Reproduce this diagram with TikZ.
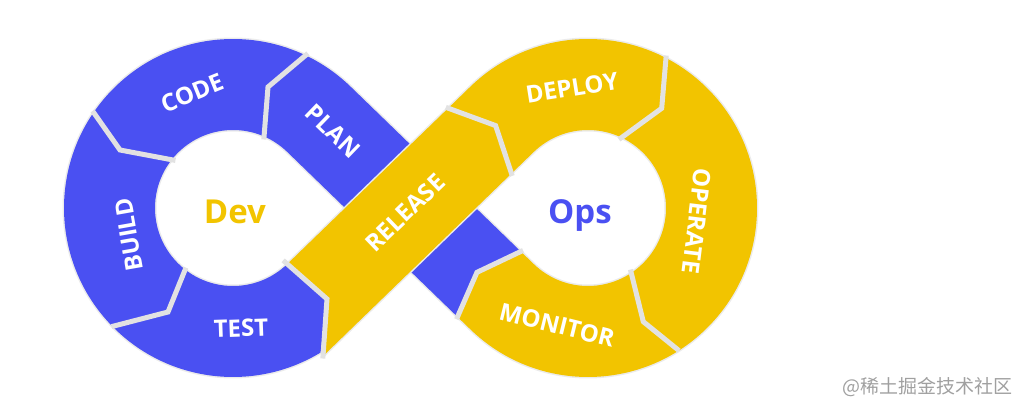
\documentclass[tikz,border=0pt]{standalone}
\usepackage{fontspec}
\setmainfont{Open Sans}
\newfontfamily\cjkfont{Noto Sans CJK SC}
\usetikzlibrary{calc}
\definecolor{devblue}{RGB}{74,80,242}
\definecolor{opsyellow}{RGB}{242,196,0}
\definecolor{gapgray}{RGB}{226,226,226}
\definecolor{markgray}{RGB}{160,160,160}
\tikzset{
    seg/.style={preaction={draw=black!8, fill=none, line width=3pt}},
    devseg/.style={seg, fill=devblue},
    opsseg/.style={seg, fill=opsyellow},
    gap/.style={draw=gapgray, line width=5pt, line cap=rect, line join=miter},
    steplabel/.style={text=white, inner sep=0pt, font=\bfseries\fontsize{24}{24}\selectfont},
    hublabel/.style={inner sep=0pt, font=\bfseries\fontsize{33}{33}\selectfont}
}

\begin{document}
\begin{tikzpicture}[x=1pt, y=1pt]
\useasboundingbox (0,-203) rectangle (1031,208);
\coordinate (L) at (233,0);
\coordinate (R) at (588,0);

% Dev ring with the PLAN band
\path[devseg] ($(L)+(45.91:169)$) arc[start angle=45.91, end angle=301.2, radius=169]
    -- (327,-91) -- ($(L)+(-45.91:78)$) arc[start angle=314.09, end angle=45.91, radius=78]
    -- (457.5,-108.9) -- (476.95,-64.35) -- (520.8,-43.5) -- cycle;
% Ops ring
\path[opsseg] (448.2,99.8) -- ($(R)+(134.09:169)$) arc[start angle=134.09, end angle=-134.09, radius=169]
    -- (457.5,-108.9) -- (476.95,-64.35) -- (520.8,-43.5)
    -- ($(R)+(-134.09:78)$) arc[start angle=-134.09, end angle=134.09, radius=78]
    -- (511.5,34.5) -- (495.6,82.4) -- cycle;
% RELEASE band over the crossing
\path[opsseg] ($(L)+(-45.91:78)$) -- (327,-91) -- (324.2,-147) -- (511.5,34.5)
    -- (495.6,82.4) -- (448.2,99.8) -- cycle;

% gaps between the stages
\draw[gap] (306,153) -- (268,121) -- (264,71);
\draw[gap] (94,95) -- (120,58) -- (173,48);
\draw[gap] (114,-118) -- (168,-104) -- (185,-62);
\draw[gap] (323,-148) -- (327,-91) -- (285,-54);
\draw[gap] (448.2,99.8) -- (495.6,82.4) -- (511.5,34.5);
\draw[gap] (666,150) -- (661.7,99.7) -- (621,70);
\draw[gap] (677,-141) -- (643.3,-113.7) -- (631,-64);
\draw[gap] (457.5,-108.9) -- (476.95,-64.35) -- (520.8,-43.5);

\node[steplabel, rotate=22] (code) at (192,115) {CODE};
\node[steplabel, rotate=100] (build) at (129,-27) {BUILD};
\node[steplabel, rotate=2] (test) at (241,-120) {TEST};
\node[steplabel, rotate=-44] (plan) at (333,77) {PLAN};
\node[steplabel, rotate=44] (release) at (405,-5) {RELEASE};
\node[steplabel, rotate=9] (deploy) at (572,120) {DEPLOY};
\node[steplabel, rotate=-97] (operate) at (697,-13) {OPERATE};
\node[steplabel, rotate=-14] (monitor) at (557,-117) {MONITOR};
\node[hublabel, text=opsyellow] (dev) at (235,-4) {Dev};
\node[hublabel, text=devblue] (ops) at (580,-8) {Ops};
\node[font=\cjkfont\fontsize{19}{19}\selectfont, text=markgray, anchor=east] (mark) at (1016,-179) {@稀土掘金技术社区};
\end{tikzpicture}
\end{document}
